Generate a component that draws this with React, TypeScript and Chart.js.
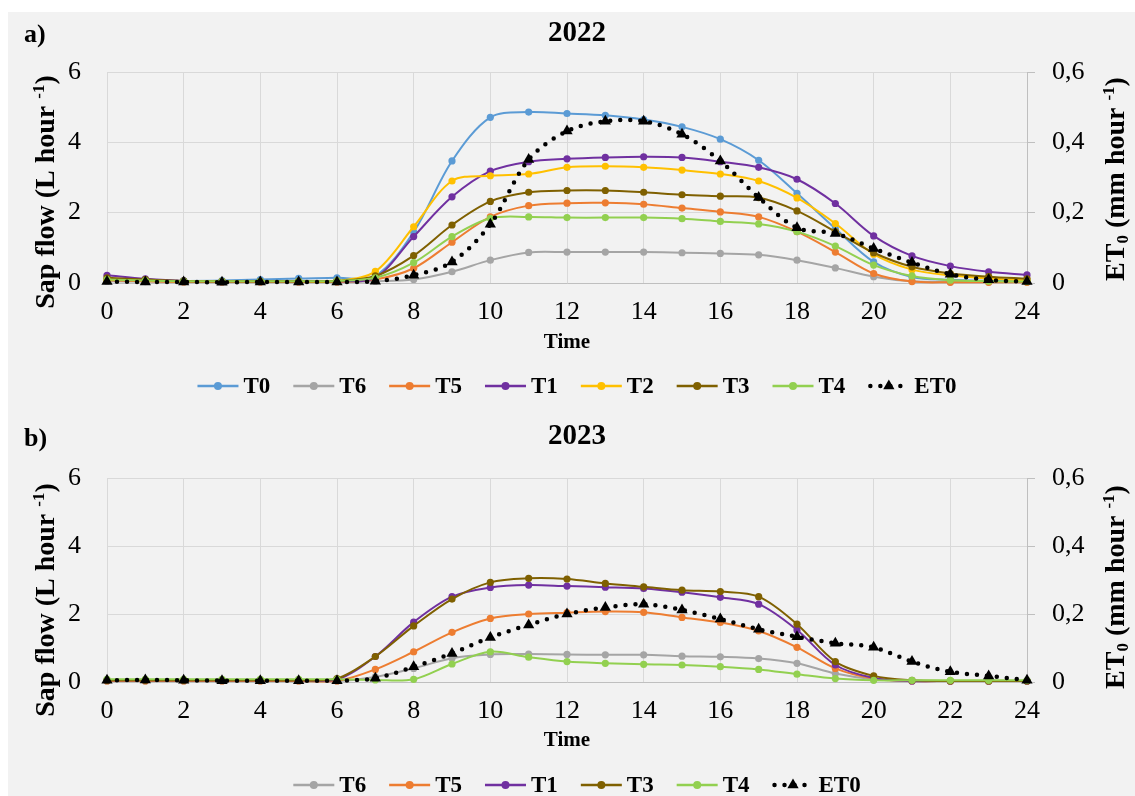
import React, { useEffect, useRef } from 'react';
import { Chart, registerables } from 'chart.js';

Chart.register(...registerables);

// ---------------- DATA ----------------
const HOURS = [0, 1, 2, 3, 4, 5, 6, 7, 8, 9, 10, 11, 12, 13, 14, 15, 16, 17, 18, 19, 20, 21, 22, 23, 24];

// 2022 sap flow (L hour-1)
const T0_2022 = [0.1, 0.08, 0.06, 0.07, 0.1, 0.13, 0.15, 0.2, 1.45, 3.47, 4.71, 4.86, 4.82, 4.77, 4.65, 4.44, 4.09, 3.49, 2.55, 1.55, 0.6, 0.17, 0.09, 0.06, 0.05];
const T6_2022 = [0.05, 0.04, 0.03, 0.03, 0.03, 0.03, 0.03, 0.05, 0.1, 0.32, 0.65, 0.87, 0.88, 0.88, 0.88, 0.86, 0.84, 0.8, 0.65, 0.43, 0.18, 0.05, 0.03, 0.03, 0.03];
const T5_2022 = [0.08, 0.05, 0.03, 0.03, 0.03, 0.03, 0.03, 0.1, 0.42, 1.16, 1.88, 2.2, 2.27, 2.28, 2.24, 2.13, 2.02, 1.88, 1.46, 0.88, 0.27, 0.04, 0.02, 0.02, 0.02];
const T1_2022 = [0.22, 0.12, 0.06, 0.05, 0.05, 0.05, 0.05, 0.15, 1.32, 2.45, 3.18, 3.45, 3.53, 3.57, 3.59, 3.57, 3.45, 3.29, 2.95, 2.26, 1.34, 0.77, 0.48, 0.32, 0.23];
const T2_2022 = [0.1, 0.08, 0.05, 0.05, 0.05, 0.05, 0.06, 0.33, 1.6, 2.9, 3.05, 3.1, 3.29, 3.32, 3.29, 3.21, 3.1, 2.9, 2.42, 1.69, 0.82, 0.38, 0.22, 0.13, 0.08];
const T3_2022 = [0.15, 0.1, 0.06, 0.05, 0.05, 0.05, 0.06, 0.2, 0.78, 1.65, 2.32, 2.58, 2.63, 2.63, 2.58, 2.51, 2.47, 2.43, 2.05, 1.46, 0.86, 0.46, 0.27, 0.18, 0.12];
const T4_2022 = [0.1, 0.07, 0.05, 0.05, 0.05, 0.05, 0.06, 0.15, 0.58, 1.32, 1.84, 1.88, 1.86, 1.86, 1.86, 1.83, 1.75, 1.68, 1.46, 1.05, 0.51, 0.2, 0.08, 0.05, 0.04];
// 2022 ET0 (mm hour-1)
const ET0_2022 = [0.004, 0.003, 0.003, 0.002, 0.003, 0.003, 0.003, 0.005, 0.022, 0.06, 0.167, 0.351, 0.432, 0.46, 0.46, 0.423, 0.347, 0.243, 0.157, 0.141, 0.098, 0.058, 0.025, 0.009, 0.004];

// 2023 sap flow (L hour-1)
const T6_2023 = [0.03, 0.03, 0.03, 0.03, 0.03, 0.03, 0.03, 0.15, 0.4, 0.7, 0.81, 0.82, 0.81, 0.8, 0.8, 0.76, 0.74, 0.69, 0.55, 0.25, 0.08, 0.03, 0.03, 0.03, 0.03];
const T5_2023 = [0.03, 0.03, 0.03, 0.03, 0.03, 0.03, 0.03, 0.37, 0.89, 1.46, 1.87, 2.0, 2.04, 2.07, 2.05, 1.9, 1.75, 1.5, 1.02, 0.4, 0.1, 0.03, 0.03, 0.03, 0.03];
const T1_2023 = [0.05, 0.05, 0.05, 0.05, 0.05, 0.05, 0.07, 0.75, 1.76, 2.51, 2.78, 2.85, 2.82, 2.79, 2.75, 2.64, 2.49, 2.29, 1.53, 0.5, 0.12, 0.03, 0.03, 0.03, 0.03];
const T3_2023 = [0.05, 0.05, 0.05, 0.05, 0.05, 0.05, 0.1, 0.75, 1.65, 2.44, 2.93, 3.05, 3.03, 2.9, 2.8, 2.7, 2.66, 2.51, 1.7, 0.6, 0.18, 0.05, 0.03, 0.03, 0.03];
const T4_2023 = [0.08, 0.08, 0.08, 0.08, 0.08, 0.08, 0.08, 0.06, 0.08, 0.53, 0.89, 0.73, 0.6, 0.55, 0.52, 0.5, 0.45, 0.37, 0.23, 0.1, 0.05, 0.05, 0.05, 0.05, 0.05];
// 2023 ET0 (mm hour-1)
const ET0_2023 = [0.005, 0.006, 0.005, 0.004, 0.004, 0.004, 0.004, 0.011, 0.045, 0.084, 0.131, 0.168, 0.2, 0.219, 0.229, 0.212, 0.185, 0.155, 0.133, 0.114, 0.102, 0.06, 0.03, 0.018, 0.005];

const SAP_TICKS = [0, 2, 4, 6];
const ET_TICKS = [0, 0.2, 0.4, 0.6];

const COLORS: Record<string, string> = {
  T0: '#5B9BD5',
  T6: '#A5A5A5',
  T5: '#ED7D31',
  T1: '#7030A0',
  T2: '#FFC000',
  T3: '#7F6000',
  T4: '#92D050',
  ET0: '#000000',
};

const SERIF = "'Liberation Serif', 'Times New Roman', serif";

type Seg = { t: string; k: 'n' | 'sup' | 'sub' };

function drawRich(ctx: CanvasRenderingContext2D, cx: number, cy: number, segs: Seg[], size: number) {
  const small = Math.round(size * 0.62);
  ctx.save();
  ctx.translate(cx, cy);
  ctx.rotate(-Math.PI / 2);
  ctx.textBaseline = 'alphabetic';
  ctx.textAlign = 'left';
  let total = 0;
  const widths = segs.map((s) => {
    ctx.font = `bold ${s.k === 'n' ? size : small}px ${SERIF}`;
    const w = ctx.measureText(s.t).width;
    total += w;
    return w;
  });
  let x = -total / 2;
  const base = size * 0.33;
  segs.forEach((s, i) => {
    ctx.font = `bold ${s.k === 'n' ? size : small}px ${SERIF}`;
    let dy = 0;
    if (s.k === 'sup') dy = -size * 0.38;
    if (s.k === 'sub') dy = size * 0.12;
    ctx.fillText(s.t, x, base + dy);
    x += widths[i];
  });
  ctx.restore();
}

type PanelCfg = {
  letter: string;
  title: string;
  names: string[];
  values: number[][];
  height: number;
  chartTop: number;
  xHeight: number;
  letterY: number;
  titleY: number;
  timeY: number;
  leftTitleY: number;
  rightTitleY: number;
  legendY: number;
};

function makeDecor(p: PanelCfg) {
  return {
    id: 'decor',
    afterDraw(chart: any) {
      const ctx: CanvasRenderingContext2D = chart.ctx;
      ctx.save();
      ctx.fillStyle = '#000';
      ctx.textBaseline = 'middle';
      ctx.textAlign = 'left';
      ctx.font = `bold 26px ${SERIF}`;
      ctx.fillText(p.letter, 16, p.letterY);
      ctx.textAlign = 'center';
      ctx.font = `bold 29px ${SERIF}`;
      ctx.fillText(p.title, 569, p.titleY);
      ctx.font = `bold 21px ${SERIF}`;
      ctx.fillText('Time', 559, p.timeY);

      drawRich(ctx, 37, p.leftTitleY, [
        { t: 'Sap flow (L hour ', k: 'n' },
        { t: '-1', k: 'sup' },
        { t: ')', k: 'n' },
      ], 28);
      drawRich(ctx, 1107, p.rightTitleY, [
        { t: 'ET', k: 'n' },
        { t: '0', k: 'sub' },
        { t: ' (mm hour ', k: 'n' },
        { t: '-1', k: 'sup' },
        { t: ')', k: 'n' },
      ], 28);

      // legend
      ctx.font = `bold 23px ${SERIF}`;
      const symW = 41;
      const gap1 = 5;
      const gap2 = 23;
      const widths = p.names.map((n) => symW + gap1 + ctx.measureText(n).width);
      const total = widths.reduce((a, b) => a + b, 0) + gap2 * (p.names.length - 1);
      let x = 569 - total / 2;
      const y = p.legendY;
      p.names.forEach((n, i) => {
        const c = COLORS[n];
        if (n === 'ET0') {
          ctx.save();
          ctx.strokeStyle = '#000';
          ctx.lineWidth = 4.5;
          ctx.lineCap = 'round';
          ctx.setLineDash([0, 10]);
          ctx.beginPath();
          ctx.moveTo(x + 2, y);
          ctx.lineTo(x + 36, y);
          ctx.stroke();
          ctx.restore();
          const r = 6.5;
          const cx = x + symW / 2;
          ctx.beginPath();
          ctx.moveTo(cx, y - r);
          ctx.lineTo(cx + r * 0.866, y + r * 0.5);
          ctx.lineTo(cx - r * 0.866, y + r * 0.5);
          ctx.closePath();
          ctx.fillStyle = '#000';
          ctx.fill();
        } else {
          ctx.strokeStyle = c;
          ctx.lineWidth = 2.5;
          ctx.beginPath();
          ctx.moveTo(x, y);
          ctx.lineTo(x + symW, y);
          ctx.stroke();
          ctx.beginPath();
          ctx.arc(x + symW / 2, y, 4, 0, Math.PI * 2);
          ctx.fillStyle = c;
          ctx.fill();
        }
        ctx.fillStyle = '#000';
        ctx.textAlign = 'left';
        ctx.textBaseline = 'middle';
        ctx.fillText(n, x + symW + gap1, y + 1);
        x += widths[i] + gap2;
      });
      ctx.restore();
    },
  };
}

function Panel({ cfg, top }: { cfg: PanelCfg; top: number }) {
  const ref = useRef<HTMLCanvasElement | null>(null);
  useEffect(() => {
    if (!ref.current) return;
    const n = cfg.names.length;
    const datasets = cfg.names.map((name, i) => {
      const vals = cfg.values[i];
      const data = HOURS.map((h, j) => ({ x: h, y: vals[j] }));
      if (name === 'ET0') {
        return {
          label: name,
          data,
          yAxisID: 'y1',
          borderColor: '#000',
          backgroundColor: '#000',
          borderWidth: 4.5,
          borderDash: [0, 10],
          borderCapStyle: 'round',
          pointStyle: 'triangle',
          pointRadius: 6.5,
          pointBackgroundColor: '#000',
          pointBorderColor: '#000',
          pointBorderWidth: 0,
          tension: 0.33,
          clip: false,
          order: n - i,
        };
      }
      return {
        label: name,
        data,
        yAxisID: 'y',
        borderColor: COLORS[name],
        backgroundColor: COLORS[name],
        borderWidth: 2,
        pointRadius: 3.6,
        pointBackgroundColor: COLORS[name],
        pointBorderColor: COLORS[name],
        pointBorderWidth: 0,
        tension: 0.33,
        clip: false,
        order: n - i,
      };
    });
    const tickFont = { family: SERIF, size: 26 };
    const chart = new Chart(ref.current, {
      type: 'line',
      data: { datasets: datasets as any },
      options: {
        responsive: false,
        animation: false,
        devicePixelRatio: 1,
        layout: { padding: { top: cfg.chartTop, left: 0, right: 0, bottom: 0 } },
        plugins: {
          legend: { display: false },
          title: { display: false },
          tooltip: { enabled: false },
        },
        scales: {
          x: {
            type: 'linear',
            min: 0,
            max: 24,
            ticks: { stepSize: 2, font: tickFont, color: '#000', padding: 14, maxRotation: 0, autoSkip: false },
            grid: { color: '#d9d9d9', drawTicks: false, lineWidth: 1 },
            border: { color: '#bfbfbf', width: 1 },
            afterFit: (s: any) => { s.height = cfg.xHeight; },
          },
          y: {
            position: 'left',
            min: SAP_TICKS[0],
            max: SAP_TICKS[SAP_TICKS.length - 1],
            afterBuildTicks: (s: any) => { s.ticks = SAP_TICKS.map((v) => ({ value: v })); },
            ticks: { font: tickFont, color: '#000', padding: 26 },
            grid: { color: '#d9d9d9', drawTicks: false, lineWidth: 1 },
            border: { color: '#d9d9d9', width: 1 },
            afterFit: (s: any) => { s.width = 99; },
          },
          y1: {
            position: 'right',
            min: ET_TICKS[0],
            max: ET_TICKS[ET_TICKS.length - 1],
            afterBuildTicks: (s: any) => { s.ticks = ET_TICKS.map((v) => ({ value: v })); },
            ticks: {
              font: tickFont,
              color: '#000',
              padding: 17,
              callback: (v: any) => (Number(v) === 0 ? '0' : Number(v).toFixed(1).replace('.', ',')),
            },
            grid: { drawOnChartArea: false, drawTicks: true, tickLength: 8, color: '#bfbfbf' },
            border: { color: '#bfbfbf', width: 1 },
            afterFit: (s: any) => { s.width = 108; },
          },
        },
      } as any,
      plugins: [makeDecor(cfg)],
    });
    return () => chart.destroy();
  }, [cfg]);
  return (
    <canvas
      ref={ref}
      width={1127}
      height={cfg.height}
      style={{ position: 'absolute', left: 8, top, width: 1127, height: cfg.height, display: 'block' }}
    />
  );
}

const PANEL_A: PanelCfg = {
  letter: 'a)',
  title: '2022',
  names: ['T0', 'T6', 'T5', 'T1', 'T2', 'T3', 'T4', 'ET0'],
  values: [T0_2022, T6_2022, T5_2022, T1_2022, T2_2022, T3_2022, T4_2022, ET0_2022],
  height: 388,
  chartTop: 60,
  xHeight: 117,
  letterY: 23,
  titleY: 22,
  timeY: 331,
  leftTitleY: 180,
  rightTitleY: 167,
  legendY: 374,
};

const PANEL_B: PanelCfg = {
  letter: 'b)',
  title: '2023',
  names: ['T6', 'T5', 'T1', 'T3', 'T4', 'ET0'],
  values: [T6_2023, T5_2023, T1_2023, T3_2023, T4_2023, ET0_2023],
  height: 396,
  chartTop: 78,
  xHeight: 114,
  letterY: 39,
  titleY: 37,
  timeY: 341,
  leftTitleY: 200,
  rightTitleY: 187,
  legendY: 385,
};

export default function App() {
  return (
    <div style={{ position: 'absolute', left: 0, top: 0, width: 1135, height: 796, background: '#ffffff', overflow: 'hidden' }}>
      <div style={{ position: 'absolute', left: 8, top: 12, width: 1127, height: 784, background: '#f2f2f2' }} />
      <Panel cfg={PANEL_A} top={12} />
      <Panel cfg={PANEL_B} top={400} />
    </div>
  );
}
